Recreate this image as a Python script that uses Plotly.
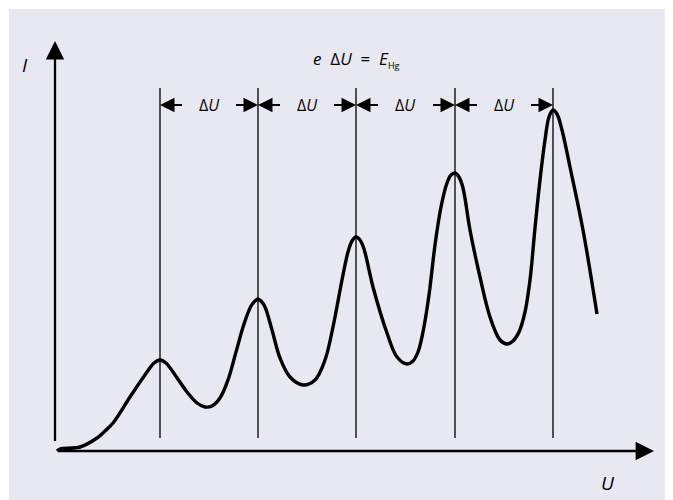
import plotly.graph_objects as go

# Franck-Hertz curve: accelerating voltage U (V) and current I (arb. units)
curve_U = [0.1, 0.25, 1.25, 2.1, 2.5, 2.9, 3.75, 4.6, 4.95, 5.25, 5.55, 5.9, 6.6, 7.1, 7.5,
           7.85, 8.25, 8.65, 9.05, 9.45, 9.8, 10.0, 10.15, 10.3, 10.5, 10.85, 11.25, 11.75,
           12.4, 13.0, 13.5, 13.9, 14.35, 14.65, 14.85, 15.05, 15.25, 15.45, 15.9, 16.6,
           17.1, 17.6, 17.9, 18.15, 18.4, 18.7, 19.0, 19.3, 19.6, 19.8, 20.0, 20.2, 20.4,
           20.75, 21.25, 21.75, 22.25, 22.6, 22.9, 23.2, 23.5, 23.75, 24.0, 24.25, 24.5,
           24.7, 24.9, 25.1, 25.35, 25.75, 26.4, 27.1]
curve_I = [0.0, 0.02, 0.04, 0.13, 0.2, 0.28, 0.54, 0.79, 0.88, 0.91, 0.88, 0.79, 0.59, 0.48,
           0.44, 0.45, 0.53, 0.71, 0.99, 1.27, 1.45, 1.5, 1.52, 1.5, 1.44, 1.21, 0.93, 0.74,
           0.66, 0.71, 0.91, 1.24, 1.71, 1.99, 2.1, 2.14, 2.11, 2.02, 1.64, 1.18, 0.94, 0.87,
           0.9, 0.99, 1.19, 1.56, 2.06, 2.44, 2.68, 2.76, 2.78, 2.74, 2.63, 2.21, 1.74, 1.34,
           1.11, 1.07, 1.1, 1.19, 1.39, 1.71, 2.23, 2.71, 3.11, 3.34, 3.41, 3.37, 3.21, 2.84,
           2.21, 1.37]

# positions of the current maxima (V)
peak_U = [5.25, 10.15, 15.05, 20.0, 24.9]
line_I_bottom = 0.13
line_I_top = 3.63
arrow_I = 3.46
arrow_len = 1.25

axis_U_end = 29.95
axis_I_end = 4.10

delta_label = "Δ<i>U</i>"
equation = "<i>e</i>  Δ<i>U</i>  =  <i>E</i><sub><span style='font-size:9px'>Hg</span></sub>"

FONT = "Open Sans"

fig = go.Figure()

# vertical lines at peaks
vx, vy = [], []
for u in peak_U:
    vx += [u, u, None]
    vy += [line_I_bottom, line_I_top, None]
fig.add_trace(go.Scatter(x=vx, y=vy, mode="lines",
                         line=dict(color="#111111", width=1.4),
                         hoverinfo="skip", showlegend=False))

# the curve
fig.add_trace(go.Scatter(x=curve_U, y=curve_I, mode="lines",
                         line=dict(color="black", width=3.4, shape="spline", smoothing=1.0),
                         hoverinfo="skip", showlegend=False))

annotations = []
# axes with arrows
for tip in [(0, axis_I_end), (axis_U_end, 0)]:
    annotations.append(dict(x=tip[0], y=tip[1], ax=0, ay=0, xref="x", yref="y",
                            axref="x", ayref="y", showarrow=True, arrowhead=2,
                            arrowwidth=2.3, arrowsize=1.6, arrowcolor="black", text=" "))

# delta U arrows and labels
for a, b in zip(peak_U[:-1], peak_U[1:]):
    annotations.append(dict(x=a, y=arrow_I, ax=a + arrow_len, ay=arrow_I,
                            xref="x", yref="y", axref="x", ayref="y",
                            showarrow=True, arrowhead=2, arrowwidth=2,
                            arrowsize=1.45, arrowcolor="black", text=" "))
    annotations.append(dict(x=b, y=arrow_I, ax=b - arrow_len, ay=arrow_I,
                            xref="x", yref="y", axref="x", ayref="y",
                            showarrow=True, arrowhead=2, arrowwidth=2,
                            arrowsize=1.45, arrowcolor="black", text=" "))
    annotations.append(dict(x=(a + b) / 2, y=arrow_I, xref="x", yref="y",
                            text=delta_label, showarrow=False,
                            font=dict(family=FONT, size=16, color="black")))

# equation
annotations.append(dict(x=peak_U[2], y=3.92, xref="x", yref="y", text=equation,
                        showarrow=False, font=dict(family=FONT, size=17, color="black")))
# axis labels
annotations.append(dict(x=-1.5, y=3.86, xref="x", yref="y", text="<i>I</i>",
                        showarrow=False, font=dict(family=FONT, size=19, color="black")))
annotations.append(dict(x=27.65, y=-0.32, xref="x", yref="y", text="<i>U</i>",
                        showarrow=False, font=dict(family=FONT, size=19, color="black")))

fig.update_layout(
    width=673, height=500,
    margin=dict(l=0, r=0, t=0, b=0),
    paper_bgcolor="white",
    plot_bgcolor="rgba(0,0,0,0)",
    xaxis=dict(range=[-2.35, 31.3], visible=False, fixedrange=True),
    yaxis=dict(range=[-0.57, 4.43], visible=False, fixedrange=True),
    annotations=annotations,
    shapes=[dict(type="rect", xref="paper", yref="paper",
                 x0=1 / 673, x1=663 / 673, y0=0, y1=499 / 500,
                 fillcolor="#e8e8f2", line=dict(width=0), layer="below")],
    showlegend=False,
)

fig.write_html("out.html")
